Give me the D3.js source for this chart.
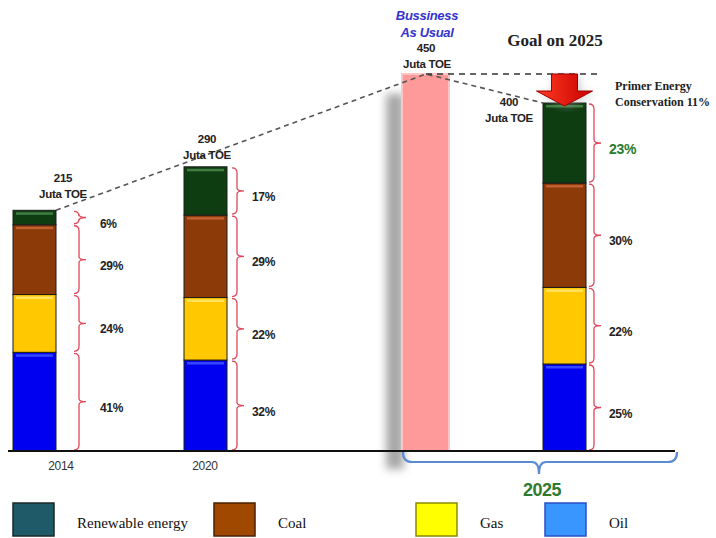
<!DOCTYPE html>
<html>
<head>
<meta charset="utf-8">
<script src="https://cdn.jsdelivr.net/npm/d3@7"></script>
<style>
  body { margin: 0; background: #fff; }
  svg { display: block; }
</style>
</head>
<body>
<script>
// values
let years = ["2014", "2020", "2025"];
let totals = [215, 290, 400];          // Juta TOE
let bauTotal = 450;                     // business as usual 2025
let sourceKeys = ["oil", "gas", "coal", "renewable"];
let sourceNames = ["Oil", "Gas", "Coal", "Renewable energy"];
let oilShare = [41, 32, 25];
let gasShare = [24, 22, 22];
let coalShare = [29, 29, 30];
let renewableShare = [6, 17, 23];
let legendOrder = ["renewable", "coal", "gas", "oil"];

let width = 716, height = 538;
let base = 451;

let svg = d3.select("body").append("svg")
  .attr("width", width)
  .attr("height", height);

let defs = svg.append("defs");
defs.append("filter").attr("id", "blur")
  .attr("x", "-50%").attr("width", "200%")
  .append("feGaussianBlur").attr("stdDeviation", 4);
let ag = defs.append("linearGradient").attr("id", "arrowGrad")
  .attr("x1", 0).attr("x2", 1).attr("y1", 0).attr("y2", 0);
ag.append("stop").attr("offset", "0%").attr("stop-color", "#ff3b22");
ag.append("stop").attr("offset", "100%").attr("stop-color", "#c80000");

// the original isn't drawn to scale from zero, so the scale has an offset
let y = d3.scaleLinear().domain([-200, 450]).range([base, 74]);
let x = d3.scaleOrdinal()
  .domain(["2014", "2020", "BAU", "2025"])
  .range([13, 184, 402, 543]);
let barW = 43;

let fill = d3.scaleOrdinal().domain(sourceKeys)
  .range(["#0000f0", "#ffc800", "#8b3a08", "#0f3d12"]);
let shine = d3.scaleOrdinal().domain(sourceKeys)
  .range(["#3d55ff", "#ffe870", "#c8663a", "#4a8a4a"]);
let legendFill = d3.scaleOrdinal().domain(sourceKeys)
  .range(["#3a96ff", "#ffff00", "#a04800", "#1e5a68"]);
let legendStroke = d3.scaleOrdinal().domain(sourceKeys)
  .range(["#2850c8", "#8a8a00", "#4a2000", "#1a2a2a"]);

let rows = years.map((yr, i) => ({
  year: yr, total: totals[i],
  oil: oilShare[i], gas: gasShare[i], coal: coalShare[i], renewable: renewableShare[i]
}));
let stacked = d3.stack().keys(sourceKeys)(rows);

// per bar percentage scale
let pct = function(row) {
  return d3.scaleLinear().domain([0, 100]).range([base, y(row.total)]);
};

// shadow behind business-as-usual bar
svg.append("rect")
  .attr("x", x("BAU") - 16).attr("y", y(bauTotal) + 20)
  .attr("width", 18).attr("height", base + 18 - y(bauTotal) - 20)
  .attr("fill", "#a8a8a8")
  .attr("filter", "url(#blur)");

svg.append("rect")
  .attr("x", x("BAU")).attr("y", y(bauTotal))
  .attr("width", 47).attr("height", base - y(bauTotal))
  .attr("fill", "#ff9a9a")
  .attr("stroke", "#ffc4c4").attr("stroke-width", 2);

// stacked bars
let layers = svg.selectAll("g.layer").data(stacked).join("g")
  .attr("class", "layer");
layers.each(function(layer) {
  let g = d3.select(this);
  layer.forEach(function(d) {
    let s = pct(d.data);
    let top = s(d[1]), bot = s(d[0]);
    g.append("rect")
      .attr("x", x(d.data.year)).attr("y", top)
      .attr("width", barW).attr("height", bot - top)
      .attr("fill", fill(layer.key))
      .attr("stroke", "#1c1c1c").attr("stroke-width", 1);
    g.append("rect")
      .attr("x", x(d.data.year) + 3).attr("y", top + 2)
      .attr("width", barW - 6).attr("height", 2.5)
      .attr("fill", shine(layer.key)).attr("opacity", 0.85);
  });
});

// red braces and share labels
let braceX = d3.scaleOrdinal().domain(years).range([79, 237, 594]);
let labelX = d3.scaleOrdinal().domain(years).range([100, 252, 609]);

let brace = function(bx, y0, y1) {
  let m = (y0 + y1) / 2;
  return "M" + (bx - 5) + "," + (y0 + 1) +
    " Q" + bx + "," + (y0 + 1) + " " + bx + "," + (y0 + 6) +
    " L" + bx + "," + (m - 3) +
    " Q" + bx + "," + m + " " + (bx + 7) + "," + m +
    " Q" + bx + "," + m + " " + bx + "," + (m + 3) +
    " L" + bx + "," + (y1 - 6) +
    " Q" + bx + "," + (y1 - 1) + " " + (bx - 5) + "," + (y1 - 1);
};

stacked.forEach(function(layer) {
  layer.forEach(function(d) {
    let s = pct(d.data);
    let top = s(d[1]), bot = s(d[0]);
    let yr = d.data.year;
    svg.append("path")
      .attr("d", brace(braceX(yr), top, bot))
      .attr("fill", "none")
      .attr("stroke", "#e0485a").attr("stroke-width", 1.3);
    let green = (layer.key == "renewable" && yr == "2025");
    svg.append("text")
      .attr("x", labelX(yr))
      .attr("y", (top + bot) / 2 + (green ? 11 : 10))
      .attr("font-family", "Liberation Sans, Arial, sans-serif")
      .attr("font-weight", "bold")
      .attr("font-size", green ? 14 : 12)
      .attr("fill", green ? "#2b7a2b" : "#222")
      .attr("letter-spacing", -0.3)
      .text(d.data[layer.key] + "%");
  });
});

// dashed trend line
let trend = [
  [x("2014") + barW, y(totals[0])],
  [x("BAU") + 24, y(bauTotal)],
  [x("2025"), y(totals[2])]
];
svg.append("path")
  .attr("d", d3.line()(trend))
  .attr("fill", "none")
  .attr("stroke", "#555").attr("stroke-width", 1.6)
  .attr("stroke-dasharray", "5,4");
svg.append("path")
  .attr("d", d3.line()([[x("BAU") + 24, y(bauTotal)], [602, y(bauTotal)]]))
  .attr("fill", "none")
  .attr("stroke", "#333").attr("stroke-width", 1.6)
  .attr("stroke-dasharray", "6,5");

// red conservation arrow
{
  let cx = x("2025") + barW / 2;
  let t = y(bauTotal), b = y(totals[2]) + 3;
  let hs = t + 17;
  let pts = [[cx - 13, t], [cx + 13, t], [cx + 13, hs], [cx + 28, hs],
             [cx, b], [cx - 28, hs], [cx - 13, hs]];
  svg.append("path")
    .attr("d", d3.line()(pts) + "Z")
    .attr("fill", "#999").attr("opacity", 0.5)
    .attr("transform", "translate(2,2)")
    .attr("filter", "url(#blur)");
  svg.append("path")
    .attr("d", d3.line()(pts) + "Z")
    .attr("fill", "url(#arrowGrad)")
    .attr("stroke", "#a00000").attr("stroke-width", 1);
}

// base line
svg.append("line")
  .attr("x1", 8).attr("x2", 675)
  .attr("y1", base).attr("y2", base)
  .attr("stroke", "#111").attr("stroke-width", 2);

// blue 2025 bracket
svg.append("path")
  .attr("d", "M403,452 Q403,462 412,462 L532,462 Q539,462 539,474 Q539,462 546,462 L668,462 Q677,462 677,452")
  .attr("fill", "none")
  .attr("stroke", "#5b8bd4").attr("stroke-width", 2.2);

let sans = "Liberation Sans, Arial, sans-serif";
let serif = "Liberation Serif, Times New Roman, serif";

let label = function(tx, ty, txt, opts) {
  opts = opts || {};
  return svg.append("text")
    .attr("x", tx).attr("y", ty)
    .attr("text-anchor", opts.anchor || "middle")
    .attr("font-family", opts.family || sans)
    .attr("font-weight", opts.weight || "bold")
    .attr("font-style", opts.style || "normal")
    .attr("font-size", opts.size || 12)
    .attr("fill", opts.color || "#222")
    .attr("letter-spacing", opts.ls == null ? -0.3 : opts.ls)
    .text(txt);
};

// total labels
let totalX = d3.scaleOrdinal().domain(years).range([63, 207, 509]);
let totalDy = d3.scaleOrdinal().domain(years).range([-28, -24, 3]);
years.forEach(function(yr, i) {
  let ty = y(totals[i]) + totalDy(yr);
  label(totalX(yr), ty, String(totals[i]), {size: 11.5});
  label(totalX(yr), ty + 16, "Juta TOE", {size: 11.5});
});
label(426, 52, String(bauTotal), {size: 11.5});
label(427, 68, "Juta TOE", {size: 11.5});
label(427, 20, "Bussiness", {style: "italic", color: "#3434cc", size: 13});
label(427, 37, "As Usual", {style: "italic", color: "#3434cc", size: 13});

label(555, 46, "Goal on 2025", {family: serif, size: 17, ls: 0});
label(615, 90, "Primer Energy", {family: serif, size: 12, anchor: "start", ls: 0});
label(615, 106, "Conservation 11%", {family: serif, size: 12, anchor: "start", ls: 0});

// year labels
label(61, 470, "2014", {weight: "normal", color: "#333", size: 12});
label(205, 470, "2020", {weight: "normal", color: "#333", size: 12});
label(542, 496, "2025", {size: 18, color: "#2f7a2f", ls: -0.5});

// legend
let legX = d3.scaleOrdinal().domain(legendOrder).range([13, 214, 416, 545]);
let legend = svg.selectAll("g.leg").data(legendOrder).join("g")
  .attr("class", "leg")
  .attr("transform", d => "translate(" + legX(d) + ",503)");
legend.append("rect")
  .attr("width", 41).attr("height", 33)
  .attr("fill", d => legendFill(d))
  .attr("stroke", d => legendStroke(d)).attr("stroke-width", 1.5);
legend.append("text")
  .attr("x", 64).attr("y", 25)
  .attr("font-family", serif)
  .attr("font-size", 15)
  .attr("fill", "#111")
  .text(d => sourceNames[sourceKeys.indexOf(d)]);
</script>
</body>
</html>
